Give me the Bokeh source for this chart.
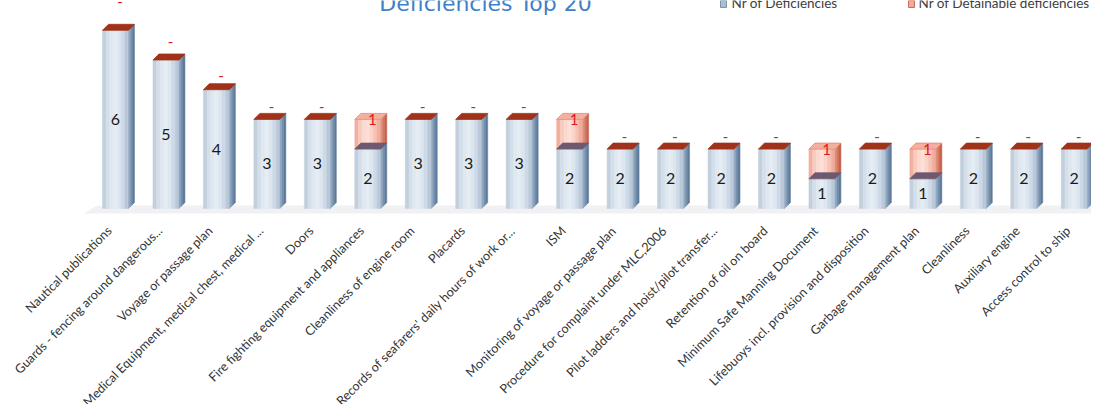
import numpy as np
from bokeh.plotting import figure
from bokeh.models import FixedTicker, Range1d
from bokeh.core.properties import value
from bokeh.embed import file_html
from bokeh.resources import INLINE

# ---------------- data ----------------
categories = [
    "Nautical publications",
    "Guards - fencing around dangerous...",
    "Voyage or passage plan",
    "Medical Equipment, medical chest, medical ...",
    "Doors",
    "Fire fighting equipment and appliances",
    "Cleanliness of engine room",
    "Placards",
    "Records of seafarers' daily hours of work or...",
    "ISM",
    "Monitoring of voyage or passage plan",
    "Procedure for complaint under MLC,2006",
    "Pilot ladders and hoist/pilot transfer...",
    "Retention of oil on board",
    "Minimum Safe Manning Document",
    "Lifebuoys incl. provision and disposition",
    "Garbage management plan",
    "Cleanliness",
    "Auxiliary engine",
    "Access control to ship",
]
nr_deficiencies = [6, 5, 4, 3, 3, 2, 3, 3, 3, 2, 2, 2, 2, 2, 1, 2, 1, 2, 2, 2]
nr_detainable = [0, 0, 0, 0, 0, 1, 0, 0, 0, 1, 0, 0, 0, 0, 1, 0, 1, 0, 0, 0]
title_text = "Deficiencies Top 20"
legend_labels = ["Nr of Deficiencies", "Nr of Detainable deficiencies"]

# ---------------- geometry ----------------
PX_X = 50.46
PX_Y = 29.7
FRAME_W, FRAME_H = 1091, 216
X0 = -115 / PX_X
X1 = X0 + FRAME_W / PX_X
Y1 = 208 / PX_Y
Y0 = Y1 - FRAME_H / PX_Y


def sx(px):
    return X0 + px / PX_X


def sy(py):
    return (208 - py) / PX_Y


HW = 13 / PX_X
DX = 6 / PX_X
DY = 6 / PX_Y
LABEL_SHIFT = 0.12

front_blue = ["#c2cfdc", "#d4dfea", "#dfe8f1", "#e4ecf4", "#dde6ef", "#cdd9e6", "#b9c9da"]
side_blue = ["#93a9c1", "#7590ad", "#5e7b9a"]
front_red = ["#f2b0a0", "#f9cabe", "#fcd8cf", "#fddfd7", "#fbd4ca", "#f7c2b4", "#f0ad9c"]
side_red = ["#e0907a", "#d47660", "#c6614a"]
top_blue = "#9f3219"
top_under = "#6e5a70"
top_red = "#f4b09f"

p = figure(
    frame_width=FRAME_W, frame_height=FRAME_H,
    x_range=Range1d(X0, X1), y_range=Range1d(Y0, Y1),
    output_backend="svg", toolbar_location=None,
    y_axis_location=None,
    min_border_left=0, min_border_right=0, min_border_top=0, min_border_bottom=150,
)
p.outline_line_color = None
p.xgrid.visible = False
p.ygrid.visible = False
p.background_fill_color = "white"
p.border_fill_color = "white"

# floor
p.patch(x=[sx(83), sx(97), sx(1099), sx(1099)], y=[sy(213), sy(205), sy(205), sy(213)],
        fill_color="#f1f1f3", line_color=None)

# fronts
L, R, B, T, C = [], [], [], [], []
ns = len(front_blue)
for i, (n, d) in enumerate(zip(nr_deficiencies, nr_detainable)):
    for k in range(ns):
        L.append(i - HW + 2 * HW * k / ns)
        R.append(i - HW + 2 * HW * (k + 1) / ns)
        B.append(0)
        T.append(n)
        C.append(front_blue[k])
    if d > 0:
        for k in range(ns):
            L.append(i - HW + 2 * HW * k / ns)
            R.append(i - HW + 2 * HW * (k + 1) / ns)
            B.append(n)
            T.append(n + d)
            C.append(front_red[k])
p.quad(left=L, right=R, bottom=B, top=T, fill_color=C, line_color=C, line_width=0.5)

# sides
sxs, sys_, scs = [], [], []
ms = len(side_blue)
for i, (n, d) in enumerate(zip(nr_deficiencies, nr_detainable)):
    segs = [(0, n, side_blue)]
    if d > 0:
        segs.append((n, n + d, side_red))
    for b, t, cols in segs:
        for k in range(ms):
            fa, fb = k / ms, (k + 1) / ms
            xa, xb = i + HW + DX * fa, i + HW + DX * fb
            sxs.append([xa, xb, xb, xa])
            sys_.append([b + DY * fa, b + DY * fb, t + DY * fb, t + DY * fa])
            scs.append(cols[k])
p.patches(xs=sxs, ys=sys_, fill_color=scs, line_color=scs, line_width=0.5)

# tops
txs, tys, tcs, tls = [], [], [], []
for i, (n, d) in enumerate(zip(nr_deficiencies, nr_detainable)):
    if d > 0:
        tops = [(n, top_under, top_under), (n + d, top_red, "#e58a74")]
    else:
        tops = [(n, top_blue, top_blue)]
    for t, col, lc in tops:
        txs.append([i - HW, i + HW, i + HW + DX, i - HW + DX])
        tys.append([t, t, t + DY, t + DY])
        tcs.append(col)
        tls.append(lc)
p.patches(xs=txs, ys=tys, fill_color=tcs, line_color=tls, line_width=0.8)

# value labels
idx = list(range(len(categories)))
p.text(x=idx, y=[n / 2 for n in nr_deficiencies], text=[str(n) for n in nr_deficiencies],
       text_align="center", text_baseline="middle", text_font=value("Lato"),
       text_font_size="16px", text_color="#1a1a1a")
det_x, det_y, det_t = [], [], []
for i, (n, d) in enumerate(zip(nr_deficiencies, nr_detainable)):
    det_x.append(i + 0.09)
    if d > 0:
        det_y.append(n + d)
        det_t.append(str(d))
    else:
        # zero-value label floats above the bar (further for taller bars, as in the source)
        det_y.append(n + (12 + 0.3 * np.exp(n - 2)) / PX_Y)
        det_t.append("-")
p.text(x=det_x, y=det_y, text=det_t, text_align="center", text_baseline="middle",
       text_font=value("Lato"), text_font_size="15px", text_color="#e01818")

# title
p.text(x=[sx(485)], y=[sy(3)], text=[title_text], text_align="center",
       text_baseline="middle", text_font=value("DejaVu Sans"),
       text_font_size="22px", text_color="#3f7fc8")

# legend
p.quad(left=[sx(720), sx(908)], right=[sx(726), sx(914)], bottom=[sy(7), sy(7)], top=[sy(0), sy(0)],
       fill_color=["#aabdd1", "#f2a898"], line_color=["#7d95ae", "#cf6a55"], line_width=1)
p.text(x=[sx(731), sx(918)], y=[sy(2), sy(2)], text=legend_labels, text_align="left",
       text_baseline="middle", text_font=value("Lato"), text_font_size="13.5px",
       text_color="#404040")

# x axis
tick_pos = [round(i - LABEL_SHIFT, 2) for i in idx]
p.xaxis.ticker = FixedTicker(ticks=tick_pos)
p.xaxis.major_label_overrides = {t: c for t, c in zip(tick_pos, categories)}
p.xaxis.major_label_orientation = np.pi / 4
p.xaxis.axis_line_color = None
p.xaxis.major_tick_line_color = None
p.xaxis.minor_tick_line_color = None
p.xaxis.major_tick_out = 0
p.xaxis.major_tick_in = 0
p.xaxis.major_label_standoff = 12
p.xaxis.major_label_text_font = "Lato"
p.xaxis.major_label_text_font_size = "12.6px"
p.xaxis.major_label_text_color = "#333333"

open("out.html", "w").write(file_html(p, INLINE))
